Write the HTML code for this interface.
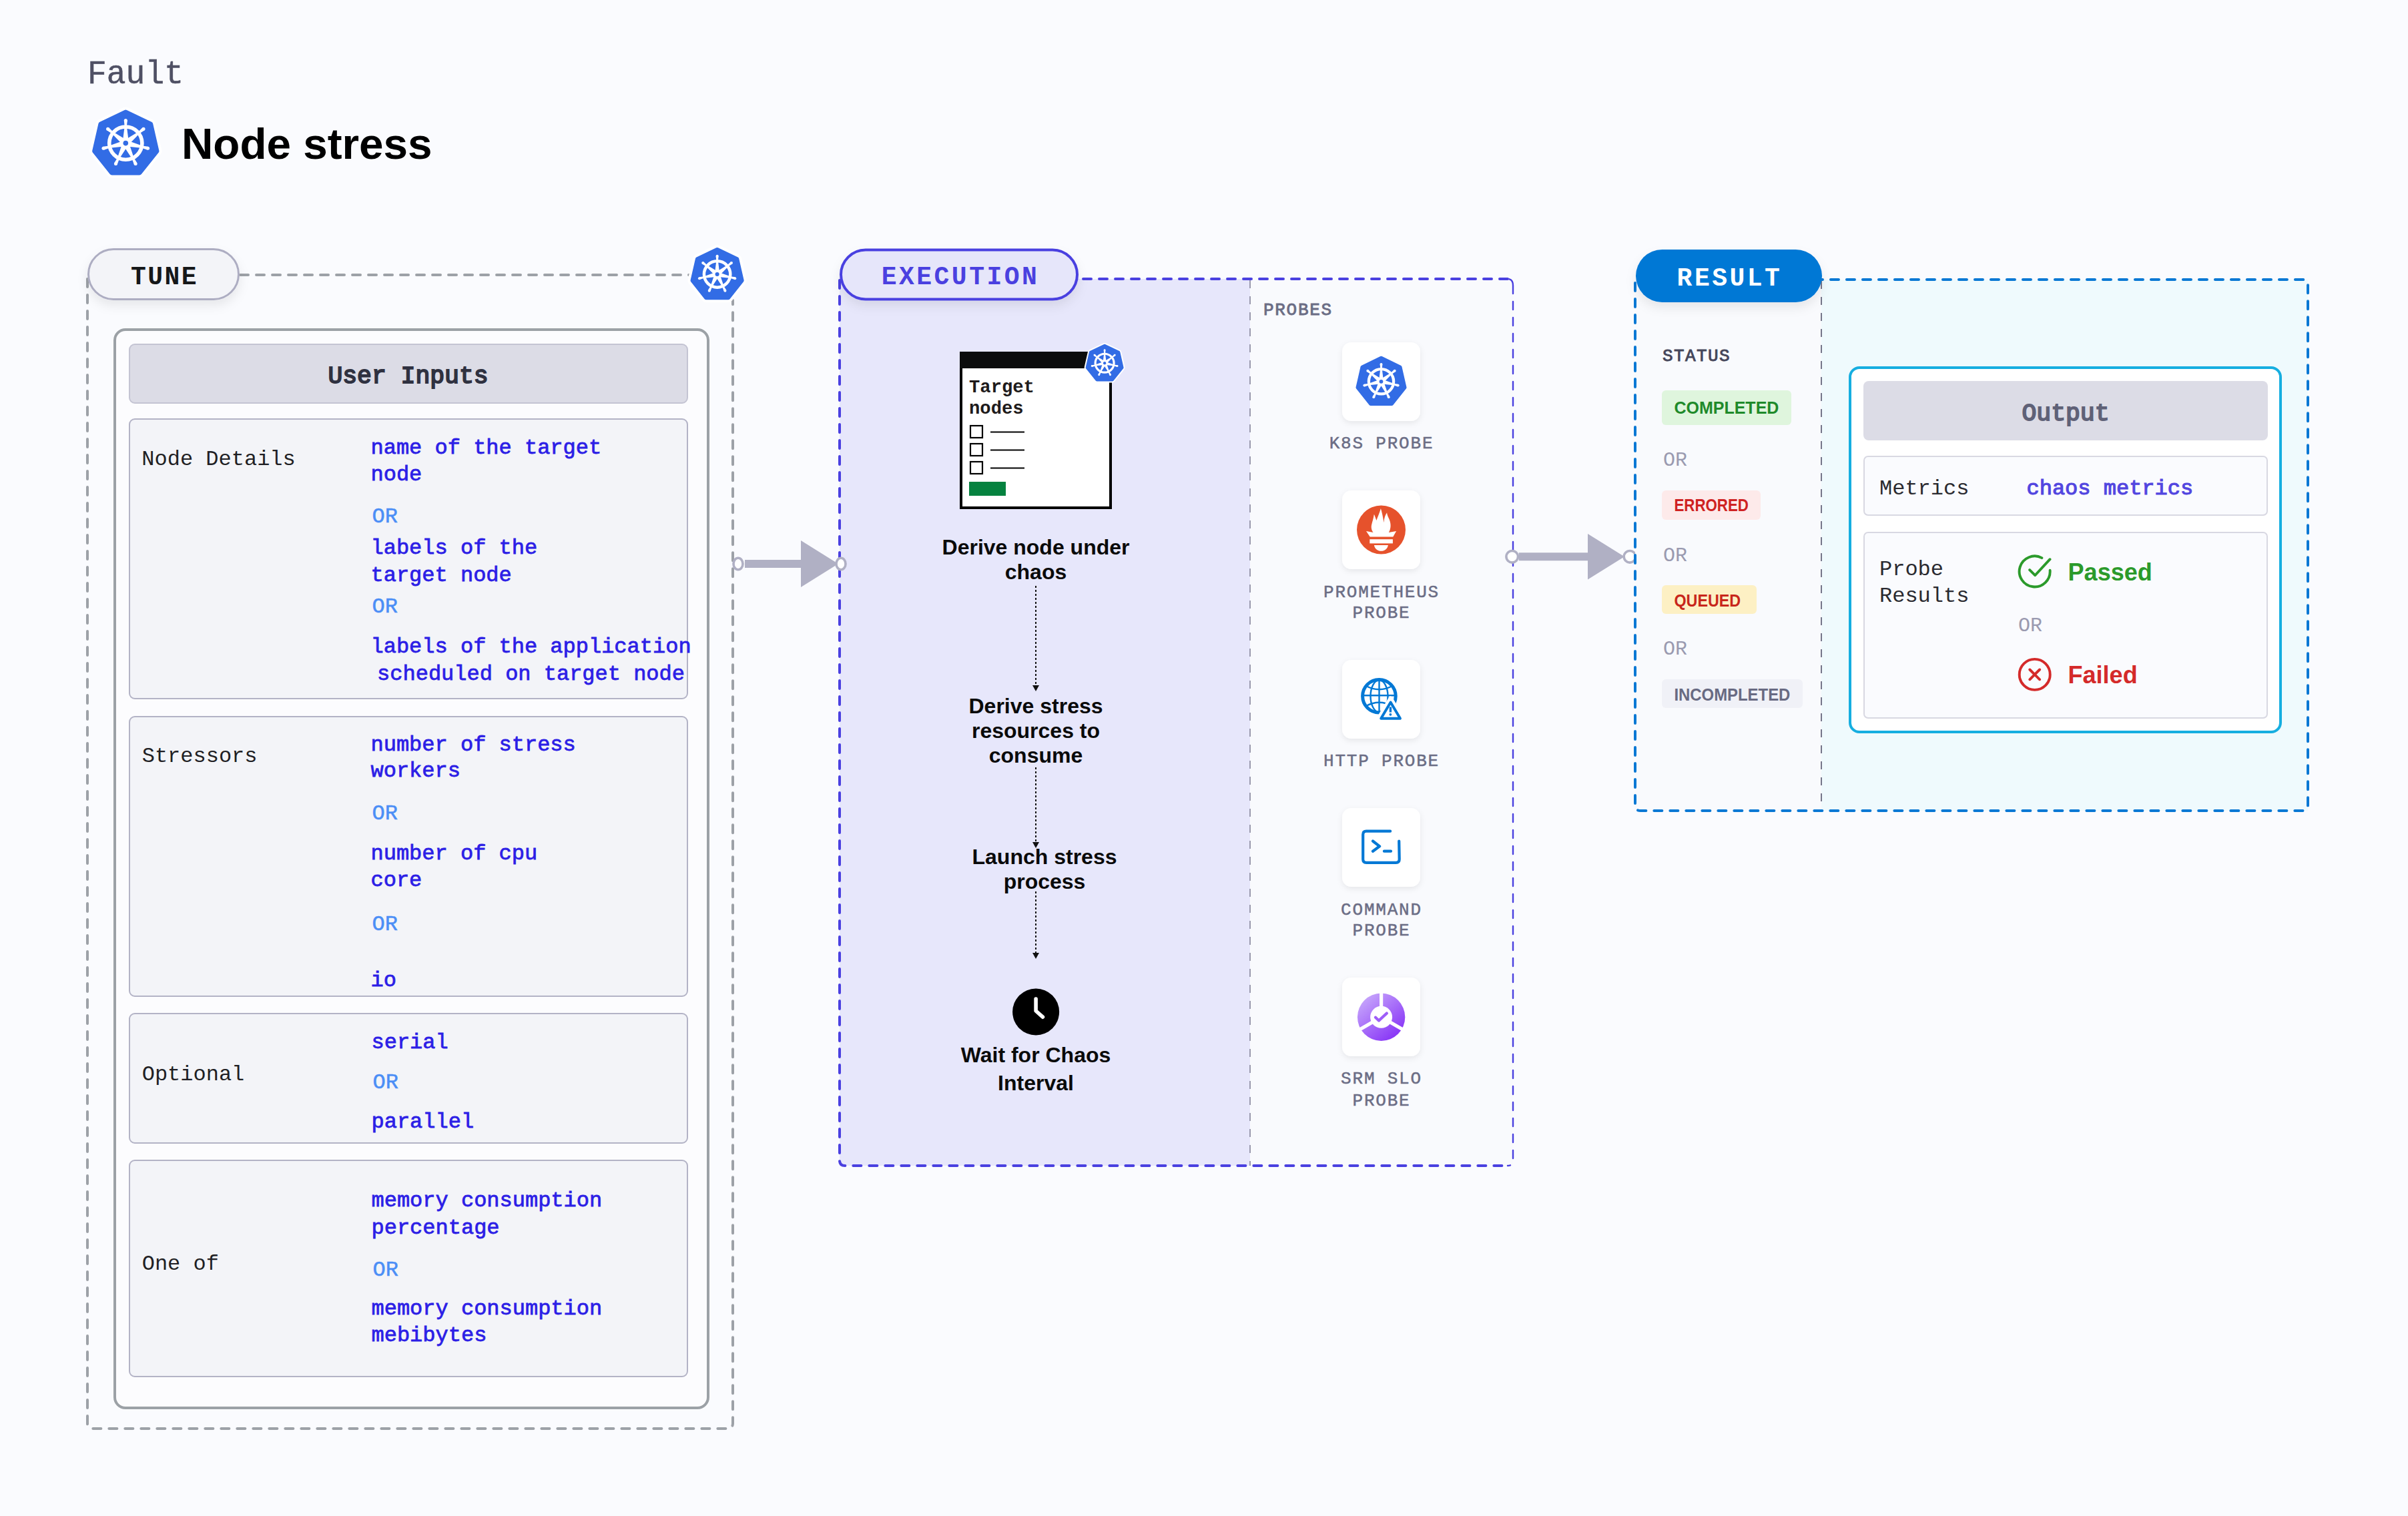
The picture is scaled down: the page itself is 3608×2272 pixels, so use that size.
<!DOCTYPE html><html><head><meta charset="utf-8"><style>html,body{margin:0;padding:0;background:#fafbfe;} svg{display:block}</style></head><body>
<svg width="3608" height="2272" viewBox="0 0 3608 2272">
<defs>
<filter id="sh" x="-20%" y="-30%" width="140%" height="180%"><feDropShadow dx="0" dy="8" stdDeviation="8" flood-color="#000" flood-opacity="0.08"/></filter>
<filter id="sh2" x="-20%" y="-20%" width="140%" height="150%"><feDropShadow dx="0" dy="3" stdDeviation="4" flood-color="#000" flood-opacity="0.08"/></filter>
<linearGradient id="srm" x1="0" y1="0" x2="0" y2="1"><stop offset="0" stop-color="#c79cf3"/><stop offset="1" stop-color="#7a2de8"/></linearGradient>
</defs>
<rect x="0" y="0" width="3608" height="2272" rx="0" fill="#fafbfe" stroke="none" stroke-width="0" />
<text x="0" y="0" font-family='"Liberation Mono", monospace' font-size="48" font-weight="400" fill="#4f5064" text-anchor="start" stroke="#4f5064" stroke-width="0.5" transform="translate(131 125.3) scale(1 1.06)" xml:space="preserve">Fault</text>
<polygon points="188.30,168.30 225.44,186.18 234.61,226.37 208.91,258.60 167.69,258.60 141.99,226.37 151.16,186.18" fill="#fff" stroke="#fff" stroke-width="15.600000000000001" stroke-linejoin="round"/>
<polygon points="188.30,168.30 225.44,186.18 234.61,226.37 208.91,258.60 167.69,258.60 141.99,226.37 151.16,186.18" fill="#326ce5" stroke="#326ce5" stroke-width="7.60" stroke-linejoin="round"/>
<circle cx="188.3" cy="214.60" r="24.60" fill="none" stroke="#fff" stroke-width="5.60"/>
<polygon points="192.70,211.60 189.90,189.60 190.80,180.40 185.80,180.40 186.70,189.60 183.90,211.60" fill="#fff"/>
<circle cx="188.30" cy="180.40" r="2.50" fill="#fff"/>
<polygon points="193.39,216.17 208.84,200.26 216.60,195.23 213.48,191.32 206.85,197.76 187.90,209.29" fill="#fff"/>
<circle cx="215.04" cy="193.28" r="2.50" fill="#fff"/>
<polygon points="190.25,219.56 212.32,221.72 221.09,224.65 222.20,219.77 213.03,218.60 192.20,210.98" fill="#fff"/>
<circle cx="221.64" cy="222.21" r="2.50" fill="#fff"/>
<polygon points="185.64,219.21 197.71,237.82 200.89,246.50 205.39,244.33 200.59,236.43 193.57,215.39" fill="#fff"/>
<circle cx="203.14" cy="245.41" r="2.50" fill="#fff"/>
<polygon points="183.03,215.39 176.01,236.43 171.21,244.33 175.71,246.50 178.89,237.82 190.96,219.21" fill="#fff"/>
<circle cx="173.46" cy="245.41" r="2.50" fill="#fff"/>
<polygon points="184.40,210.98 163.57,218.60 154.40,219.77 155.51,224.65 164.28,221.72 186.35,219.56" fill="#fff"/>
<circle cx="154.96" cy="222.21" r="2.50" fill="#fff"/>
<polygon points="188.70,209.29 169.75,197.76 163.12,191.32 160.00,195.23 167.76,200.26 183.21,216.17" fill="#fff"/>
<circle cx="161.56" cy="193.28" r="2.50" fill="#fff"/>
<circle cx="188.3" cy="214.60" r="7.50" fill="#fff"/>
<circle cx="188.3" cy="214.60" r="3.80" fill="#326ce5"/>
<text x="272" y="238" font-family='"Liberation Sans", sans-serif' font-size="65.6" font-weight="700" fill="#000" text-anchor="start"  xml:space="preserve">Node stress</text>
<path d="M131 418 V2133 Q131 2141 139 2141 H1090 Q1098 2141 1098 2133 V450" fill="none" stroke="#9da1a7" stroke-width="4" stroke-dasharray="12 12" stroke-linecap="round"/>
<path d="M360 412 H1040" fill="none" stroke="#9da1a7" stroke-width="4" stroke-dasharray="12 12" stroke-linecap="round"/>
<rect x="132.5" y="373.5" width="225" height="75" rx="37.5" fill="#f3f4f8" stroke="#adadc2" stroke-width="3" filter="url(#sh)"/>
<text x="246.5" y="425.5" font-family='"Liberation Mono", monospace' font-size="38" font-weight="700" fill="#151719" text-anchor="middle" letter-spacing="2.5"  xml:space="preserve">TUNE</text>
<polygon points="1074.60,374.00 1104.31,388.31 1111.65,420.46 1091.09,446.24 1058.11,446.24 1037.55,420.46 1044.89,388.31" fill="#fff" stroke="#fff" stroke-width="14.08" stroke-linejoin="round"/>
<polygon points="1074.60,374.00 1104.31,388.31 1111.65,420.46 1091.09,446.24 1058.11,446.24 1037.55,420.46 1044.89,388.31" fill="#326ce5" stroke="#326ce5" stroke-width="6.08" stroke-linejoin="round"/>
<circle cx="1074.6" cy="411.04" r="19.68" fill="none" stroke="#fff" stroke-width="4.48"/>
<polygon points="1078.12,408.64 1075.88,391.04 1076.60,383.68 1072.60,383.68 1073.32,391.04 1071.08,408.64" fill="#fff"/>
<circle cx="1074.60" cy="383.68" r="2.00" fill="#fff"/>
<polygon points="1078.67,412.30 1091.03,399.57 1097.24,395.54 1094.74,392.42 1089.44,397.57 1074.28,406.79" fill="#fff"/>
<circle cx="1095.99" cy="393.98" r="2.00" fill="#fff"/>
<polygon points="1076.16,415.01 1093.81,416.74 1100.83,419.08 1101.72,415.18 1094.38,414.24 1077.72,408.14" fill="#fff"/>
<circle cx="1101.27" cy="417.13" r="2.00" fill="#fff"/>
<polygon points="1072.47,414.73 1082.12,429.61 1084.67,436.56 1088.27,434.82 1084.43,428.50 1078.81,411.68" fill="#fff"/>
<circle cx="1086.47" cy="435.69" r="2.00" fill="#fff"/>
<polygon points="1070.39,411.68 1064.77,428.50 1060.93,434.82 1064.53,436.56 1067.08,429.61 1076.73,414.73" fill="#fff"/>
<circle cx="1062.73" cy="435.69" r="2.00" fill="#fff"/>
<polygon points="1071.48,408.14 1054.82,414.24 1047.48,415.18 1048.37,419.08 1055.39,416.74 1073.04,415.01" fill="#fff"/>
<circle cx="1047.93" cy="417.13" r="2.00" fill="#fff"/>
<polygon points="1074.92,406.79 1059.76,397.57 1054.46,392.42 1051.96,395.54 1058.17,399.57 1070.53,412.30" fill="#fff"/>
<circle cx="1053.21" cy="393.98" r="2.00" fill="#fff"/>
<circle cx="1074.6" cy="411.04" r="6.00" fill="#fff"/>
<circle cx="1074.6" cy="411.04" r="3.04" fill="#326ce5"/>
<rect x="172" y="494" width="889" height="1616" rx="16" fill="#fcfcfe" stroke="#9ca1a6" stroke-width="4" />
<rect x="194" y="516" width="836" height="88" rx="8" fill="#dcdce6" stroke="#c4c4d3" stroke-width="2" />
<text x="611.5" y="573.5" font-family='"Liberation Mono", monospace' font-size="36.4" font-weight="400" fill="#2f3140" text-anchor="middle" stroke="#2f3140" stroke-width="1.9" xml:space="preserve">User Inputs</text>
<rect x="194" y="628" width="836" height="419" rx="8" fill="#f3f4f8" stroke="#b3b3c6" stroke-width="2" />
<rect x="194" y="1074" width="836" height="419" rx="8" fill="#f3f4f8" stroke="#b3b3c6" stroke-width="2" />
<rect x="194" y="1519" width="836" height="194" rx="8" fill="#f3f4f8" stroke="#b3b3c6" stroke-width="2" />
<rect x="194" y="1739" width="836" height="324" rx="8" fill="#f3f4f8" stroke="#b3b3c6" stroke-width="2" />
<text x="212.3" y="697" font-family='"Liberation Mono", monospace' font-size="32" font-weight="400" fill="#1f1f24" text-anchor="start"  xml:space="preserve">Node Details</text>
<text x="555.5" y="680" font-family='"Liberation Mono", monospace' font-size="32" font-weight="400" fill="#2c1ee6" text-anchor="start" stroke="#2c1ee6" stroke-width="0.8" xml:space="preserve">name of the target</text>
<text x="555.5" y="720" font-family='"Liberation Mono", monospace' font-size="32" font-weight="400" fill="#2c1ee6" text-anchor="start" stroke="#2c1ee6" stroke-width="0.8" xml:space="preserve">node</text>
<text x="557.5" y="783" font-family='"Liberation Mono", monospace' font-size="32" font-weight="400" fill="#4b8ef6" text-anchor="start" stroke="#4b8ef6" stroke-width="0.5" xml:space="preserve">OR</text>
<text x="555.5" y="830" font-family='"Liberation Mono", monospace' font-size="32" font-weight="400" fill="#2c1ee6" text-anchor="start" stroke="#2c1ee6" stroke-width="0.8" xml:space="preserve">labels of the</text>
<text x="555.5" y="871" font-family='"Liberation Mono", monospace' font-size="32" font-weight="400" fill="#2c1ee6" text-anchor="start" stroke="#2c1ee6" stroke-width="0.8" xml:space="preserve">target node</text>
<text x="557.5" y="918" font-family='"Liberation Mono", monospace' font-size="32" font-weight="400" fill="#4b8ef6" text-anchor="start" stroke="#4b8ef6" stroke-width="0.5" xml:space="preserve">OR</text>
<text x="555.5" y="978" font-family='"Liberation Mono", monospace' font-size="32" font-weight="400" fill="#2c1ee6" text-anchor="start" stroke="#2c1ee6" stroke-width="0.8" xml:space="preserve">labels of the application</text>
<text x="565.1" y="1019" font-family='"Liberation Mono", monospace' font-size="32" font-weight="400" fill="#2c1ee6" text-anchor="start" stroke="#2c1ee6" stroke-width="0.8" xml:space="preserve">scheduled on target node</text>
<text x="212.7" y="1142" font-family='"Liberation Mono", monospace' font-size="32" font-weight="400" fill="#1f1f24" text-anchor="start"  xml:space="preserve">Stressors</text>
<text x="555.5" y="1125" font-family='"Liberation Mono", monospace' font-size="32" font-weight="400" fill="#2c1ee6" text-anchor="start" stroke="#2c1ee6" stroke-width="0.8" xml:space="preserve">number of stress</text>
<text x="555.5" y="1164" font-family='"Liberation Mono", monospace' font-size="32" font-weight="400" fill="#2c1ee6" text-anchor="start" stroke="#2c1ee6" stroke-width="0.8" xml:space="preserve">workers</text>
<text x="557.5" y="1228" font-family='"Liberation Mono", monospace' font-size="32" font-weight="400" fill="#4b8ef6" text-anchor="start" stroke="#4b8ef6" stroke-width="0.5" xml:space="preserve">OR</text>
<text x="555.5" y="1288" font-family='"Liberation Mono", monospace' font-size="32" font-weight="400" fill="#2c1ee6" text-anchor="start" stroke="#2c1ee6" stroke-width="0.8" xml:space="preserve">number of cpu</text>
<text x="555.5" y="1328" font-family='"Liberation Mono", monospace' font-size="32" font-weight="400" fill="#2c1ee6" text-anchor="start" stroke="#2c1ee6" stroke-width="0.8" xml:space="preserve">core</text>
<text x="557.5" y="1394" font-family='"Liberation Mono", monospace' font-size="32" font-weight="400" fill="#4b8ef6" text-anchor="start" stroke="#4b8ef6" stroke-width="0.5" xml:space="preserve">OR</text>
<text x="555.5" y="1478" font-family='"Liberation Mono", monospace' font-size="32" font-weight="400" fill="#2c1ee6" text-anchor="start" stroke="#2c1ee6" stroke-width="0.8" xml:space="preserve">io</text>
<text x="212.7" y="1619" font-family='"Liberation Mono", monospace' font-size="32" font-weight="400" fill="#1f1f24" text-anchor="start"  xml:space="preserve">Optional</text>
<text x="556.5" y="1571" font-family='"Liberation Mono", monospace' font-size="32" font-weight="400" fill="#2c1ee6" text-anchor="start" stroke="#2c1ee6" stroke-width="0.8" xml:space="preserve">serial</text>
<text x="558.5" y="1631" font-family='"Liberation Mono", monospace' font-size="32" font-weight="400" fill="#4b8ef6" text-anchor="start" stroke="#4b8ef6" stroke-width="0.5" xml:space="preserve">OR</text>
<text x="556.5" y="1690" font-family='"Liberation Mono", monospace' font-size="32" font-weight="400" fill="#2c1ee6" text-anchor="start" stroke="#2c1ee6" stroke-width="0.8" xml:space="preserve">parallel</text>
<text x="212.7" y="1903" font-family='"Liberation Mono", monospace' font-size="32" font-weight="400" fill="#1f1f24" text-anchor="start"  xml:space="preserve">One of</text>
<text x="556.5" y="1808" font-family='"Liberation Mono", monospace' font-size="32" font-weight="400" fill="#2c1ee6" text-anchor="start" stroke="#2c1ee6" stroke-width="0.8" xml:space="preserve">memory consumption</text>
<text x="556.5" y="1849" font-family='"Liberation Mono", monospace' font-size="32" font-weight="400" fill="#2c1ee6" text-anchor="start" stroke="#2c1ee6" stroke-width="0.8" xml:space="preserve">percentage</text>
<text x="558.5" y="1912" font-family='"Liberation Mono", monospace' font-size="32" font-weight="400" fill="#4b8ef6" text-anchor="start" stroke="#4b8ef6" stroke-width="0.5" xml:space="preserve">OR</text>
<text x="556.5" y="1970" font-family='"Liberation Mono", monospace' font-size="32" font-weight="400" fill="#2c1ee6" text-anchor="start" stroke="#2c1ee6" stroke-width="0.8" xml:space="preserve">memory consumption</text>
<text x="556.5" y="2010" font-family='"Liberation Mono", monospace' font-size="32" font-weight="400" fill="#2c1ee6" text-anchor="start" stroke="#2c1ee6" stroke-width="0.8" xml:space="preserve">mebibytes</text>
<rect x="1258" y="418" width="615" height="1329" rx="0" fill="#e7e7fb" stroke="none" stroke-width="0" />
<rect x="1873" y="418" width="394" height="1329" rx="0" fill="#f9fafd" stroke="none" stroke-width="0" />
<line x1="1873" y1="420" x2="1873" y2="1747" stroke="#9a9aae" stroke-width="2" stroke-dasharray="12 12"/>
<path d="M1258 420 V1739 Q1258 1747 1266 1747 H2259" fill="none" stroke="#4a40e0" stroke-width="4" stroke-dasharray="12 12" stroke-linecap="round"/>
<path d="M2259 418 H1620" fill="none" stroke="#4a40e0" stroke-width="4" stroke-dasharray="12 12" stroke-linecap="round"/>
<path d="M2267 428 Q2267 418 2259 418 M2267 428 V1739 Q2267 1747 2259 1747" fill="none" stroke="#4a40e0" stroke-width="2.4" stroke-dasharray="12 12" stroke-linecap="round"/>
<rect x="1260" y="374.5" width="354" height="74" rx="37" fill="#e6e6fa" stroke="#4a40e0" stroke-width="4" filter="url(#sh)"/>
<text x="1439" y="426" font-family='"Liberation Mono", monospace' font-size="38" font-weight="700" fill="#4a40e0" text-anchor="middle" letter-spacing="3.5"  xml:space="preserve">EXECUTION</text>
<line x1="1116" y1="845" x2="1204" y2="845" stroke="#b0b0c4" stroke-width="12"/>
<polygon points="1200,810.0 1256,845 1200,880.0" fill="#b0b0c4"/>
<ellipse cx="1106" cy="845" rx="7" ry="8.8" fill="#fff" stroke="#b0b0c4" stroke-width="3.6"/>
<ellipse cx="1260" cy="845" rx="7" ry="8.8" fill="#fff" stroke="#b0b0c4" stroke-width="3.6"/>
<rect x="1440" y="529" width="224" height="232" rx="0" fill="#fff" stroke="#000" stroke-width="4" />
<rect x="1438" y="527" width="228" height="25" rx="0" fill="#0b0c0c" stroke="none" stroke-width="0" />
<text x="1452" y="587.5" font-family='"Liberation Mono", monospace' font-size="27.2" font-weight="700" fill="#1e1b1b" text-anchor="start"  xml:space="preserve">Target</text>
<text x="1452" y="620" font-family='"Liberation Mono", monospace' font-size="27.2" font-weight="700" fill="#1e1b1b" text-anchor="start"  xml:space="preserve">nodes</text>
<rect x="1454" y="638" width="18" height="18" rx="0" fill="none" stroke="#000" stroke-width="2.2" />
<line x1="1484" y1="647.5" x2="1535" y2="647.5" stroke="#000" stroke-width="1.8"/>
<rect x="1454" y="665" width="18" height="18" rx="0" fill="none" stroke="#000" stroke-width="2.2" />
<line x1="1484" y1="674.5" x2="1535" y2="674.5" stroke="#000" stroke-width="1.8"/>
<rect x="1454" y="692" width="18" height="18" rx="0" fill="none" stroke="#000" stroke-width="2.2" />
<line x1="1484" y1="701.5" x2="1535" y2="701.5" stroke="#000" stroke-width="1.8"/>
<rect x="1452" y="722" width="55" height="21" rx="0" fill="#05823f" stroke="none" stroke-width="0" />
<polygon points="1655.10,517.90 1676.21,528.07 1681.42,550.91 1666.81,569.23 1643.39,569.23 1628.78,550.91 1633.99,528.07" fill="#fff" stroke="#fff" stroke-width="8.32" stroke-linejoin="round"/>
<polygon points="1655.10,517.90 1676.21,528.07 1681.42,550.91 1666.81,569.23 1643.39,569.23 1628.78,550.91 1633.99,528.07" fill="#326ce5" stroke="#326ce5" stroke-width="4.32" stroke-linejoin="round"/>
<circle cx="1655.1" cy="544.22" r="13.98" fill="none" stroke="#fff" stroke-width="3.18"/>
<polygon points="1657.60,542.51 1656.01,530.01 1656.52,524.78 1653.68,524.78 1654.19,530.01 1652.60,542.51" fill="#fff"/>
<circle cx="1655.10" cy="524.78" r="1.42" fill="#fff"/>
<polygon points="1657.99,545.11 1666.78,536.07 1671.18,533.21 1669.41,530.99 1665.64,534.65 1654.87,541.20" fill="#fff"/>
<circle cx="1670.30" cy="532.10" r="1.42" fill="#fff"/>
<polygon points="1656.21,547.04 1668.75,548.27 1673.74,549.93 1674.37,547.16 1669.16,546.49 1657.32,542.16" fill="#fff"/>
<circle cx="1674.05" cy="548.54" r="1.42" fill="#fff"/>
<polygon points="1653.59,546.84 1660.45,557.42 1662.25,562.35 1664.82,561.12 1662.09,556.63 1658.09,544.67" fill="#fff"/>
<circle cx="1663.53" cy="561.73" r="1.42" fill="#fff"/>
<polygon points="1652.11,544.67 1648.11,556.63 1645.38,561.12 1647.95,562.35 1649.75,557.42 1656.61,546.84" fill="#fff"/>
<circle cx="1646.67" cy="561.73" r="1.42" fill="#fff"/>
<polygon points="1652.88,542.16 1641.04,546.49 1635.83,547.16 1636.46,549.93 1641.45,548.27 1653.99,547.04" fill="#fff"/>
<circle cx="1636.15" cy="548.54" r="1.42" fill="#fff"/>
<polygon points="1655.33,541.20 1644.56,534.65 1640.79,530.99 1639.02,533.21 1643.42,536.07 1652.21,545.11" fill="#fff"/>
<circle cx="1639.90" cy="532.10" r="1.42" fill="#fff"/>
<circle cx="1655.1" cy="544.22" r="4.26" fill="#fff"/>
<circle cx="1655.1" cy="544.22" r="2.16" fill="#326ce5"/>
<text x="1552" y="830.5" font-family='"Liberation Sans", sans-serif' font-size="32" font-weight="700" fill="#0a0a0a" text-anchor="middle"  xml:space="preserve">Derive node under</text>
<text x="1552" y="867.5" font-family='"Liberation Sans", sans-serif' font-size="32" font-weight="700" fill="#0a0a0a" text-anchor="middle"  xml:space="preserve">chaos</text>
<line x1="1552" y1="878" x2="1552" y2="1028" stroke="#111" stroke-width="2" stroke-dasharray="3 3"/>
<polygon points="1547,1027 1557,1027 1552,1036" fill="#111"/>
<text x="1552" y="1069" font-family='"Liberation Sans", sans-serif' font-size="32" font-weight="700" fill="#0a0a0a" text-anchor="middle"  xml:space="preserve">Derive stress</text>
<text x="1552" y="1106" font-family='"Liberation Sans", sans-serif' font-size="32" font-weight="700" fill="#0a0a0a" text-anchor="middle"  xml:space="preserve">resources to</text>
<text x="1552" y="1143" font-family='"Liberation Sans", sans-serif' font-size="32" font-weight="700" fill="#0a0a0a" text-anchor="middle"  xml:space="preserve">consume</text>
<line x1="1552" y1="1150" x2="1552" y2="1263" stroke="#111" stroke-width="2" stroke-dasharray="3 3"/>
<polygon points="1547,1262 1557,1262 1552,1271" fill="#111"/>
<text x="1565" y="1295" font-family='"Liberation Sans", sans-serif' font-size="32" font-weight="700" fill="#0a0a0a" text-anchor="middle"  xml:space="preserve">Launch stress</text>
<text x="1565" y="1332" font-family='"Liberation Sans", sans-serif' font-size="32" font-weight="700" fill="#0a0a0a" text-anchor="middle"  xml:space="preserve">process</text>
<line x1="1552" y1="1336" x2="1552" y2="1429" stroke="#111" stroke-width="2" stroke-dasharray="3 3"/>
<polygon points="1547,1428 1557,1428 1552,1437" fill="#111"/>
<circle cx="1552.1" cy="1516.5" r="35" fill="#000"/>
<path d="M1552.1 1497 V1515 L1562.4 1524.2" fill="none" stroke="#fff" stroke-width="5.6" stroke-linecap="round" stroke-linejoin="round"/>
<text x="1552" y="1592" font-family='"Liberation Sans", sans-serif' font-size="32" font-weight="700" fill="#0a0a0a" text-anchor="middle"  xml:space="preserve">Wait for Chaos</text>
<text x="1552" y="1634" font-family='"Liberation Sans", sans-serif' font-size="32" font-weight="700" fill="#0a0a0a" text-anchor="middle"  xml:space="preserve">Interval</text>
<text x="1893" y="472" font-family='"Liberation Mono", monospace' font-size="26" font-weight="400" fill="#6b6d85" text-anchor="start" letter-spacing="1.7" stroke="#6b6d85" stroke-width="0.9" xml:space="preserve">PROBES</text>
<rect x="2011" y="513" width="117" height="118" rx="14" fill="#fff" stroke="none" stroke-width="0" filter="url(#sh2)"/>
<polygon points="2069.50,536.70 2097.65,550.25 2104.60,580.71 2085.12,605.13 2053.88,605.13 2034.40,580.71 2041.35,550.25" fill="#326ce5" stroke="#326ce5" stroke-width="5.76" stroke-linejoin="round"/>
<circle cx="2069.5" cy="571.79" r="18.64" fill="none" stroke="#fff" stroke-width="4.24"/>
<polygon points="2072.83,569.52 2070.71,552.84 2071.39,545.87 2067.61,545.87 2068.29,552.84 2066.17,569.52" fill="#fff"/>
<circle cx="2069.50" cy="545.87" r="1.89" fill="#fff"/>
<polygon points="2073.36,572.98 2085.07,560.93 2090.95,557.11 2088.58,554.15 2083.56,559.03 2069.20,567.77" fill="#fff"/>
<circle cx="2089.77" cy="555.63" r="1.89" fill="#fff"/>
<polygon points="2070.97,575.55 2087.70,577.19 2094.35,579.41 2095.19,575.71 2088.24,574.82 2072.46,569.05" fill="#fff"/>
<circle cx="2094.77" cy="577.56" r="1.89" fill="#fff"/>
<polygon points="2067.48,575.29 2076.63,589.39 2079.04,595.97 2082.45,594.32 2078.81,588.34 2073.49,572.39" fill="#fff"/>
<circle cx="2080.75" cy="595.14" r="1.89" fill="#fff"/>
<polygon points="2065.51,572.39 2060.19,588.34 2056.55,594.32 2059.96,595.97 2062.37,589.39 2071.52,575.29" fill="#fff"/>
<circle cx="2058.25" cy="595.14" r="1.89" fill="#fff"/>
<polygon points="2066.54,569.05 2050.76,574.82 2043.81,575.71 2044.65,579.41 2051.30,577.19 2068.03,575.55" fill="#fff"/>
<circle cx="2044.23" cy="577.56" r="1.89" fill="#fff"/>
<polygon points="2069.80,567.77 2055.44,559.03 2050.42,554.15 2048.05,557.11 2053.93,560.93 2065.64,572.98" fill="#fff"/>
<circle cx="2049.23" cy="555.63" r="1.89" fill="#fff"/>
<circle cx="2069.5" cy="571.79" r="5.68" fill="#fff"/>
<circle cx="2069.5" cy="571.79" r="2.88" fill="#326ce5"/>
<text x="2070" y="672" font-family='"Liberation Mono", monospace' font-size="26" font-weight="400" fill="#6b6d85" text-anchor="middle" letter-spacing="1.8" stroke="#6b6d85" stroke-width="0.5" xml:space="preserve">K8S PROBE</text>
<rect x="2011" y="735" width="117" height="118" rx="14" fill="#fff" stroke="none" stroke-width="0" filter="url(#sh2)"/>
<circle cx="2069.5" cy="794" r="36.5" fill="#e6522c"/>
<g transform="translate(2069.5 794)" fill="#fff"><path d="M-22.5 2.1 L-16.8 10.6 L17.8 10.6 L22.6 1.9 L11.3 4 C15 -2 15 -10 11.5 -17 C9.5 -21 8.6 -24 8.6 -25.8 C6 -22 4.2 -17 4 -10.8 C2.5 -20 1 -27 -0.6 -32 C-2.5 -25 -5.5 -19 -7.1 -14 C-8.5 -18 -9.5 -21 -10.7 -23.3 C-11.5 -17 -13.5 -12 -14.5 -7 C-15.5 -2 -13.5 2 -11.8 4 Z"/><rect x="-17.2" y="14.2" width="34.6" height="6.2"/><path d="M-10.6 22.9 H10.4 C9.5 28.5 5 31.7 -0.1 31.7 C-5.2 31.7 -9.7 28.5 -10.6 22.9 Z"/></g>
<text x="2070" y="895" font-family='"Liberation Mono", monospace' font-size="26" font-weight="400" fill="#6b6d85" text-anchor="middle" letter-spacing="1.8" stroke="#6b6d85" stroke-width="0.5" xml:space="preserve">PROMETHEUS</text>
<text x="2070" y="926" font-family='"Liberation Mono", monospace' font-size="26" font-weight="400" fill="#6b6d85" text-anchor="middle" letter-spacing="1.8" stroke="#6b6d85" stroke-width="0.5" xml:space="preserve">PROBE</text>
<rect x="2011" y="989" width="117" height="118" rx="14" fill="#fff" stroke="none" stroke-width="0" filter="url(#sh2)"/>
<defs><mask id="hm"><rect x="2000" y="980" width="140" height="140" fill="#fff"/><path d="M2083.6 1046.5 L2104 1081 L2063 1081 Z" fill="#000" stroke="#000" stroke-width="6" stroke-linejoin="round"/></mask></defs>
<g mask="url(#hm)" fill="none" stroke="#0278d5"><circle cx="2066.4" cy="1043.3" r="24.8" stroke-width="5"/><line x1="2066.5" y1="1019" x2="2066.5" y2="1068" stroke-width="2.4"/><ellipse cx="2066.5" cy="1043.3" rx="13" ry="24" stroke-width="2.4"/><line x1="2042" y1="1042.3" x2="2091" y2="1042.3" stroke-width="2.4"/><path d="M2046 1027.5 Q2066.5 1039 2087 1027.5" stroke-width="2.4"/><path d="M2046 1058.5 Q2066.5 1047 2087 1058.5" stroke-width="2.4"/></g>
<path d="M2083.6 1052.5 L2098 1076.8 L2069.2 1076.8 Z" fill="none" stroke="#0278d5" stroke-width="3.9" stroke-linejoin="round"/>
<line x1="2083.4" y1="1059.5" x2="2083.4" y2="1067.5" stroke="#0278d5" stroke-width="3.4"/>
<circle cx="2083.4" cy="1070.8" r="1.9" fill="#0278d5"/>
<text x="2070" y="1148" font-family='"Liberation Mono", monospace' font-size="26" font-weight="400" fill="#6b6d85" text-anchor="middle" letter-spacing="1.8" stroke="#6b6d85" stroke-width="0.5" xml:space="preserve">HTTP PROBE</text>
<rect x="2011" y="1211" width="117" height="118" rx="14" fill="#fff" stroke="none" stroke-width="0" filter="url(#sh2)"/>
<path d="M2083.1 1245.7 H2047.2 Q2042.2 1245.7 2042.2 1250.7 V1287.8 Q2042.2 1292.8 2047.2 1292.8 H2091.7 Q2096.7 1292.8 2096.7 1287.8 L2096.2 1260.5" fill="none" stroke="#0278d5" stroke-width="4.2" stroke-linecap="round" stroke-linejoin="round"/>
<path d="M2057 1260.5 L2067.1 1268.3 L2057 1275.7 M2073.9 1275.7 H2084" fill="none" stroke="#0278d5" stroke-width="4.2" stroke-linecap="round" stroke-linejoin="round"/>
<text x="2070" y="1371" font-family='"Liberation Mono", monospace' font-size="26" font-weight="400" fill="#6b6d85" text-anchor="middle" letter-spacing="1.8" stroke="#6b6d85" stroke-width="0.5" xml:space="preserve">COMMAND</text>
<text x="2070" y="1402" font-family='"Liberation Mono", monospace' font-size="26" font-weight="400" fill="#6b6d85" text-anchor="middle" letter-spacing="1.8" stroke="#6b6d85" stroke-width="0.5" xml:space="preserve">PROBE</text>
<rect x="2011" y="1465" width="117" height="118" rx="14" fill="#fff" stroke="none" stroke-width="0" filter="url(#sh2)"/>
<defs><linearGradient id="srg" x1="0.15" y1="0.1" x2="0.85" y2="0.95"><stop offset="0" stop-color="#c5a3fb"/><stop offset="1" stop-color="#8530f6"/></linearGradient><mask id="sm"><rect x="2000" y="1455" width="140" height="140" fill="#fff"/><circle cx="2069.6" cy="1524.3" r="16.5" fill="#000"/><g stroke="#000" stroke-width="5.2"><line x1="2069.6" y1="1524.3" x2="2069.6" y2="1480"/><line x1="2069.6" y1="1524.3" x2="2108" y2="1546.5"/><line x1="2069.6" y1="1524.3" x2="2031.2" y2="1546.5"/></g></mask></defs>
<circle cx="2069.6" cy="1524.3" r="35.7" fill="url(#srg)" mask="url(#sm)"/>
<path d="M2061 1524.8 L2065.9 1529.6 L2077.8 1518.6" fill="none" stroke="#9e5ef8" stroke-width="4.2" stroke-linecap="round" stroke-linejoin="round"/>
<text x="2070" y="1624" font-family='"Liberation Mono", monospace' font-size="26" font-weight="400" fill="#6b6d85" text-anchor="middle" letter-spacing="1.8" stroke="#6b6d85" stroke-width="0.5" xml:space="preserve">SRM SLO</text>
<text x="2070" y="1657" font-family='"Liberation Mono", monospace' font-size="26" font-weight="400" fill="#6b6d85" text-anchor="middle" letter-spacing="1.8" stroke="#6b6d85" stroke-width="0.5" xml:space="preserve">PROBE</text>
<line x1="2275.7" y1="834.3" x2="2383" y2="834.3" stroke="#b0b0c4" stroke-width="12"/>
<polygon points="2379,800.05 2434,834.3 2379,868.55" fill="#b0b0c4"/>
<ellipse cx="2265.7" cy="834.3" rx="8.8" ry="8.8" fill="#fff" stroke="#b0b0c4" stroke-width="3.6"/>
<ellipse cx="2442" cy="834.3" rx="8.8" ry="8.8" fill="#fff" stroke="#b0b0c4" stroke-width="3.6"/>
<rect x="2450" y="419" width="279" height="796" rx="0" fill="#f9fafd" stroke="none" stroke-width="0" />
<rect x="2729" y="419" width="729" height="796" rx="0" fill="#effafd" stroke="none" stroke-width="0" />
<line x1="2729" y1="421" x2="2729" y2="1215" stroke="#76768a" stroke-width="2" stroke-dasharray="12 12"/>
<path d="M2450 424 V1207 Q2450 1215 2458 1215 H3450 Q3458 1215 3458 1207 V427 Q3458 419 3450 419 H2730" fill="none" stroke="#0a78d4" stroke-width="4" stroke-dasharray="12 12" stroke-linecap="round"/>
<rect x="2451" y="374" width="279" height="79" rx="39.5" fill="#0278d5" stroke="none" stroke-width="0" filter="url(#sh)"/>
<text x="2591.5" y="428" font-family='"Liberation Mono", monospace' font-size="38" font-weight="700" fill="#fff" text-anchor="middle" letter-spacing="3.5"  xml:space="preserve">RESULT</text>
<text x="2491" y="541" font-family='"Liberation Mono", monospace' font-size="26" font-weight="400" fill="#45465a" text-anchor="start" letter-spacing="1.4" stroke="#45465a" stroke-width="0.9" xml:space="preserve">STATUS</text>
<rect x="2490" y="585" width="194" height="52" rx="6" fill="#dff5dd" stroke="none" stroke-width="0" />
<text x="2508.4" y="620.3" font-family='"Liberation Sans", sans-serif' font-size="26" font-weight="700" fill="#1f8a2a" text-anchor="start" textLength="157" lengthAdjust="spacingAndGlyphs"  xml:space="preserve">COMPLETED</text>
<text x="2492" y="698" font-family='"Liberation Mono", monospace' font-size="30" font-weight="400" fill="#9a9ab0" text-anchor="start"  xml:space="preserve">OR</text>
<rect x="2490" y="735" width="148" height="44" rx="6" fill="#fdeaea" stroke="none" stroke-width="0" />
<text x="2508.4" y="766" font-family='"Liberation Sans", sans-serif' font-size="26" font-weight="700" fill="#cf2222" text-anchor="start" textLength="111.6" lengthAdjust="spacingAndGlyphs"  xml:space="preserve">ERRORED</text>
<text x="2492" y="841" font-family='"Liberation Mono", monospace' font-size="30" font-weight="400" fill="#9a9ab0" text-anchor="start"  xml:space="preserve">OR</text>
<rect x="2490" y="877" width="142" height="43" rx="6" fill="#fdf0c4" stroke="none" stroke-width="0" />
<text x="2508.4" y="909" font-family='"Liberation Sans", sans-serif' font-size="26" font-weight="700" fill="#c8261b" text-anchor="start" textLength="99.8" lengthAdjust="spacingAndGlyphs"  xml:space="preserve">QUEUED</text>
<text x="2492" y="981" font-family='"Liberation Mono", monospace' font-size="30" font-weight="400" fill="#9a9ab0" text-anchor="start"  xml:space="preserve">OR</text>
<rect x="2490" y="1018" width="211" height="43" rx="6" fill="#f0f1f7" stroke="none" stroke-width="0" />
<text x="2508.4" y="1050" font-family='"Liberation Sans", sans-serif' font-size="26" font-weight="700" fill="#686a82" text-anchor="start" textLength="174" lengthAdjust="spacingAndGlyphs"  xml:space="preserve">INCOMPLETED</text>
<rect x="2772" y="551" width="645" height="546" rx="14" fill="#fff" stroke="#16aee0" stroke-width="4" />
<rect x="2792" y="571" width="606" height="89" rx="8" fill="#dcdce6" stroke="none" stroke-width="0" />
<text x="3095" y="630" font-family='"Liberation Mono", monospace' font-size="36.4" font-weight="400" fill="#5f6177" text-anchor="middle" stroke="#5f6177" stroke-width="1.9" xml:space="preserve">Output</text>
<rect x="2793" y="684" width="604" height="88" rx="6" fill="#fafbfe" stroke="#d8d8e2" stroke-width="2" />
<text x="2816" y="741" font-family='"Liberation Mono", monospace' font-size="32" font-weight="400" fill="#2a2a30" text-anchor="start"  xml:space="preserve">Metrics</text>
<text x="3036.5" y="741" font-family='"Liberation Mono", monospace' font-size="32" font-weight="400" fill="#5246e0" text-anchor="start" stroke="#5246e0" stroke-width="1.1" xml:space="preserve">chaos metrics</text>
<rect x="2793" y="798" width="604" height="278" rx="6" fill="#fafbfe" stroke="#d8d8e2" stroke-width="2" />
<text x="2816" y="862" font-family='"Liberation Mono", monospace' font-size="32" font-weight="400" fill="#2a2a30" text-anchor="start"  xml:space="preserve">Probe</text>
<text x="2816" y="902" font-family='"Liberation Mono", monospace' font-size="32" font-weight="400" fill="#2a2a30" text-anchor="start"  xml:space="preserve">Results</text>
<path d="M3059.4 836.1 A23 23 0 1 0 3071.6 854.8" fill="none" stroke="#2b9a2b" stroke-width="3.9" stroke-linecap="round"/>
<path d="M3041.1 854.1 L3049.2 862.2 L3071.5 838.2" fill="none" stroke="#2b9a2b" stroke-width="3.9" stroke-linecap="round" stroke-linejoin="round"/>
<text x="3098.6" y="870" font-family='"Liberation Sans", sans-serif' font-size="36" font-weight="700" fill="#2b9a2b" text-anchor="start"  xml:space="preserve">Passed</text>
<text x="3024" y="946" font-family='"Liberation Mono", monospace' font-size="30" font-weight="400" fill="#9a9ab0" text-anchor="start"  xml:space="preserve">OR</text>
<circle cx="3048.7" cy="1010.9" r="23" fill="none" stroke="#d42a2a" stroke-width="3.9"/>
<path d="M3041.3 1003.5 L3056.1 1018.3 M3056.1 1003.5 L3041.3 1018.3" fill="none" stroke="#d42a2a" stroke-width="3.9" stroke-linecap="round"/>
<text x="3098.6" y="1024" font-family='"Liberation Sans", sans-serif' font-size="36" font-weight="700" fill="#d42a2a" text-anchor="start"  xml:space="preserve">Failed</text>
</svg></body></html>
